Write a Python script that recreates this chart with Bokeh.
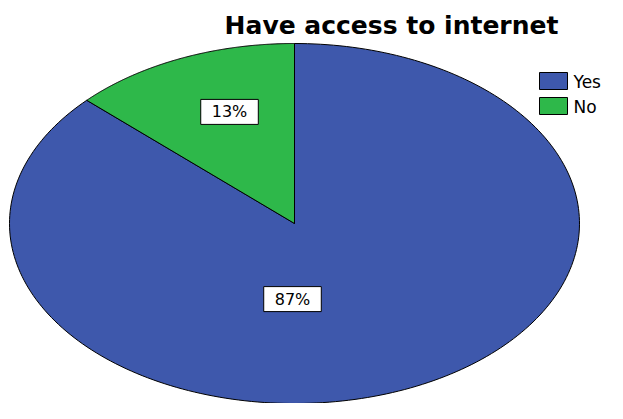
import numpy as np
from bokeh.plotting import figure
from bokeh.models import Range1d, ColumnDataSource
from bokeh.core.properties import value
from bokeh.embed import file_html
from bokeh.resources import INLINE

# ---- data ----
title_text = "Have access to internet"
categories = ["Yes", "No"]
values = [87, 13]
pct_labels = ["87%", "13%"]
colors = ["#3E58AC", "#2EB84A"]

# ---- layout constants (pixels in figure space) ----
W, H = 607, 403
cx, cy, rx, ry = 294, 223, 285, 180
# label anchors in normalized ellipse coordinates (x right, y down)
label_norm_x = [-0.007, -0.228]
label_norm_y = [0.42, -0.62]

p = figure(width=W, height=H, x_range=Range1d(0, W), y_range=Range1d(H, 0),
           output_backend="svg", toolbar_location=None, min_border=0,
           x_axis_type=None, y_axis_type=None)
p.grid.visible = False
p.outline_line_color = None
p.background_fill_color = "white"
p.border_fill_color = "white"

# slices: clockwise from 12 o'clock, parametric angles on stretched ellipse
total = float(sum(values))
xs, ys = [], []
start = 0.0
for v in values:
    frac = v / total
    t = np.linspace(start, start + frac, 240) * 2 * np.pi
    px = [cx] + list(cx + rx * np.sin(t)) + [cx]
    py = [cy] + list(cy - ry * np.cos(t)) + [cy]
    xs.append(px)
    ys.append(py)
    start += frac

src = ColumnDataSource(dict(xs=xs, ys=ys, color=colors, cat=categories))
p.patches("xs", "ys", source=src, fill_color="color", line_color="black", line_width=1)

# percentage labels
lx = [cx + nx * rx for nx in label_norm_x]
ly = [cy + ny * ry for ny in label_norm_y]
p.text(x=lx, y=ly, text=pct_labels, text_align="center", text_baseline="middle",
       text_font=value("DejaVu Sans"), text_font_size="16px", text_color="black",
       background_fill_color="white", border_line_color="black", border_line_width=1,
       padding=(11, 3))

# title
p.text(x=[391], y=[25], text=[title_text], text_align="center", text_baseline="middle",
       text_font=value("DejaVu Sans"), text_font_style="bold", text_font_size="25px",
       text_color="black")

# legend
leg_left, leg_top, box_w, box_h, step = 539, 72, 28, 17, 25
left = [leg_left] * len(categories)
right = [leg_left + box_w] * len(categories)
top = [leg_top + i * step for i in range(len(categories))]
bottom = [t + box_h for t in top]
p.quad(left=left, right=right, top=top, bottom=bottom, fill_color=colors,
       line_color="black", line_width=1)
p.text(x=[leg_left + box_w + 6] * len(categories), y=[t + box_h / 2 + 1 for t in top],
       text=categories, text_align="left", text_baseline="middle",
       text_font=value("DejaVu Sans"), text_font_size="17px", text_color="black")

open("out.html", "w").write(file_html(p, INLINE))
